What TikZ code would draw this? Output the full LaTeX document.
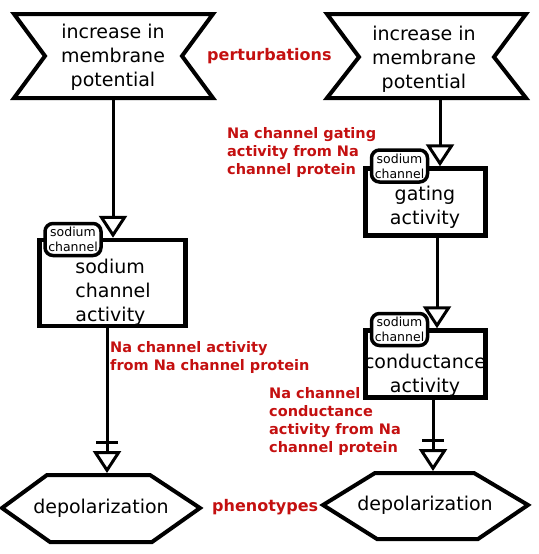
\documentclass[tikz,border=0pt]{standalone}
\usepackage{fontspec}
\setmainfont{DejaVu Sans}
\usetikzlibrary{arrows.meta,calc}
\definecolor{lblred}{RGB}{196,16,16}
\begin{document}
\begin{tikzpicture}[x=1pt,y=-1pt,
 boxtext/.style={font=\fontsize{19}{24}\selectfont, align=center, inner sep=0pt},
 boxtextl/.style={font=\fontsize{19}{24}\selectfont, align=left, inner sep=0pt},
 pnode/.style={draw, line width=4.5pt, inner sep=0pt},
 tagbox/.style={draw, line width=3.5pt, fill=white, rounded corners=8pt, align=center,
   font=\fontsize{12.5}{15}\selectfont, inner sep=0pt, minimum width=56pt, minimum height=32pt},
 lbl/.style={text=lblred, font=\bfseries\fontsize{14.5}{18}\selectfont, align=left, inner sep=0pt},
 lblbig/.style={text=lblred, font=\bfseries\fontsize{16}{18}\selectfont, inner sep=0pt},
 conn/.style={line width=3pt, -{Triangle[open, length=22pt, width=28pt]}},
 nconn/.style={line width=3pt, -{Bar[width=22pt, sep=7pt] Triangle[open, length=22pt, width=28pt]}},
 glyph/.style={line width=4pt, line join=miter}
]
\useasboundingbox (0,0) rectangle (538,554);

% perturbation nodes
\draw[glyph] (14,14) -- (213,14) -- (182,56) -- (213,98) -- (14,98) -- (45,56) -- cycle;
\node[boxtext] (p1) at (113,57) {increase in\\membrane\\potential};
\coordinate (p1s) at (113,98);

\draw[glyph] (327,14) -- (526,14) -- (494,57) -- (526,98) -- (327,98) -- (359,57) -- cycle;
\node[boxtext] (p2) at (424,59) {increase in\\membrane\\potential};
\coordinate (p2s) at (440,98);

% process boxes
\node[pnode, minimum width=146pt, minimum height=86pt] (a1) at (112.5,283) {};
\node[boxtextl] (a1t) at (113,292) {sodium\\channel\\activity};
\node[pnode, minimum width=120pt, minimum height=67pt] (g1) at (425.5,202) {};
\node[boxtext] (g1t) at (425,207) {gating\\activity};
\node[pnode, minimum width=120pt, minimum height=67pt] (c1) at (425.5,364) {};
\node[boxtext] (c1t) at (425,375) {conductance\\activity};

% phenotypes
\draw[glyph] (2,508) -- (47,475) -- (150,475) -- (200,508) -- (152,542) -- (50,542) -- cycle;
\node[boxtext] (h1) at (101,508) {depolarization};
\coordinate (h1t) at (107,473);
\draw[glyph] (323,505) -- (375,473) -- (474,473) -- (528,505) -- (478,539) -- (377,539) -- cycle;
\node[boxtext] (h2) at (425,505) {depolarization};
\coordinate (h2t) at (433,471);

% connectors
\coordinate (ax) at (107,0);
\coordinate (gx) at (437,0);
\coordinate (cx) at (433,0);
\draw[conn] (p1s) -- (a1.north -| p1s);
\draw[conn] (p2s) -- (g1.north -| p2s);
\draw[conn] (g1.south -| gx) -- (c1.north -| gx);
\draw[nconn] (a1.south -| ax) -- (h1t);
\draw[nconn] (c1.south -| cx) -- (h2t);

% tags
\node[tagbox] (t1) at (73,239.5) {sodium\\channel};
\node[tagbox] (t2) at (399.5,166) {sodium\\channel};
\node[tagbox] (t3) at (399.5,329.5) {sodium\\channel};

% labels
\node[lblbig, anchor=west] (l1) at (207,56) {perturbations};
\node[lbl, anchor=north west] (l2) at (227,127) {Na channel gating\\activity from Na\\channel protein};
\node[lbl, anchor=north west] (l3) at (110,341) {Na channel activity\\from Na channel protein};
\node[lbl, anchor=north west] (l4) at (269,387) {Na channel\\conductance\\activity from Na\\channel protein};
\node[lblbig, anchor=west] (l5) at (212,507) {phenotypes};
\end{tikzpicture}
\end{document}
